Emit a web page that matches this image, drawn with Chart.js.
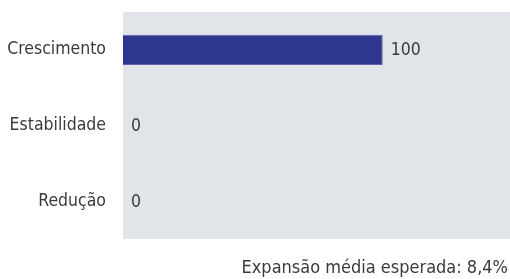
<!DOCTYPE html>
<html>
<head>
<meta charset="utf-8">
<script src="https://cdn.jsdelivr.net/npm/chart.js@4.4.1/dist/chart.umd.min.js"></script>
<style>
    html, body { margin: 0; padding: 0; background: #ffffff; }
    #wrap { width: 510px; height: 279px; position: relative; }
</style>
</head>
<body>
<div id="wrap"><canvas id="chart"></canvas></div>
<script>
const categories = ['Crescimento', 'Estabilidade', 'Redução'];
const values = [100, 0, 0];
const footerText = 'Expansão média esperada: 8,4%';

const textColor = '#3a3a3a';
const fontFamily = "'DejaVu Sans Condensed', sans-serif";

// grey plot background
const plotBackground = {
    id: 'plotBackground',
    beforeDraw(chart) {
        const { ctx, chartArea } = chart;
        ctx.save();
        ctx.fillStyle = '#e1e5ea';
        ctx.fillRect(chartArea.left, chartArea.top, chartArea.right - chartArea.left, chartArea.bottom - chartArea.top);
        ctx.restore();
    }
};

// value labels next to each bar + footer note
const valueLabels = {
    id: 'valueLabels',
    afterDatasetsDraw(chart) {
        const { ctx } = chart;
        const meta = chart.getDatasetMeta(0);
        ctx.save();
        ctx.fillStyle = textColor;
        ctx.font = '17.5px ' + fontFamily;
        ctx.textAlign = 'left';
        ctx.textBaseline = 'middle';
        meta.data.forEach((bar, i) => {
            ctx.fillText(String(values[i]), bar.x + 8, bar.y + 1);
        });
        ctx.font = '18px ' + fontFamily;
        ctx.textAlign = 'right';
        ctx.textBaseline = 'alphabetic';
        ctx.fillText(footerText, 508, 273);
        ctx.restore();
    }
};

new Chart(document.getElementById('chart'), {
    type: 'bar',
    data: {
        labels: categories,
        datasets: [{
            data: values,
            backgroundColor: '#2e3690',
            borderColor: '#5a62ad',
            borderWidth: 1,
            borderSkipped: 'start',
            categoryPercentage: 1,
            barPercentage: 0.4
        }]
    },
    options: {
        indexAxis: 'y',
        responsive: true,
        maintainAspectRatio: false,
        animation: false,
        layout: { padding: { top: 12, right: 0, bottom: 40, left: 0 } },
        scales: {
            x: {
                display: false,
                min: 0,
                max: 149
            },
            y: {
                border: { display: false },
                grid: { display: false, drawTicks: false, tickLength: 0 },
                ticks: {
                    color: textColor,
                    padding: 17,
                    font: { family: fontFamily, size: 17.5 }
                },
                afterFit(scale) {
                    scale.width = 123;
                    scale.paddingTop = 0;
                    scale.paddingBottom = 0;
                }
            }
        },
        plugins: {
            legend: { display: false },
            tooltip: { enabled: false },
            title: { display: false }
        }
    },
    plugins: [plotBackground, valueLabels]
});
</script>
</body>
</html>
